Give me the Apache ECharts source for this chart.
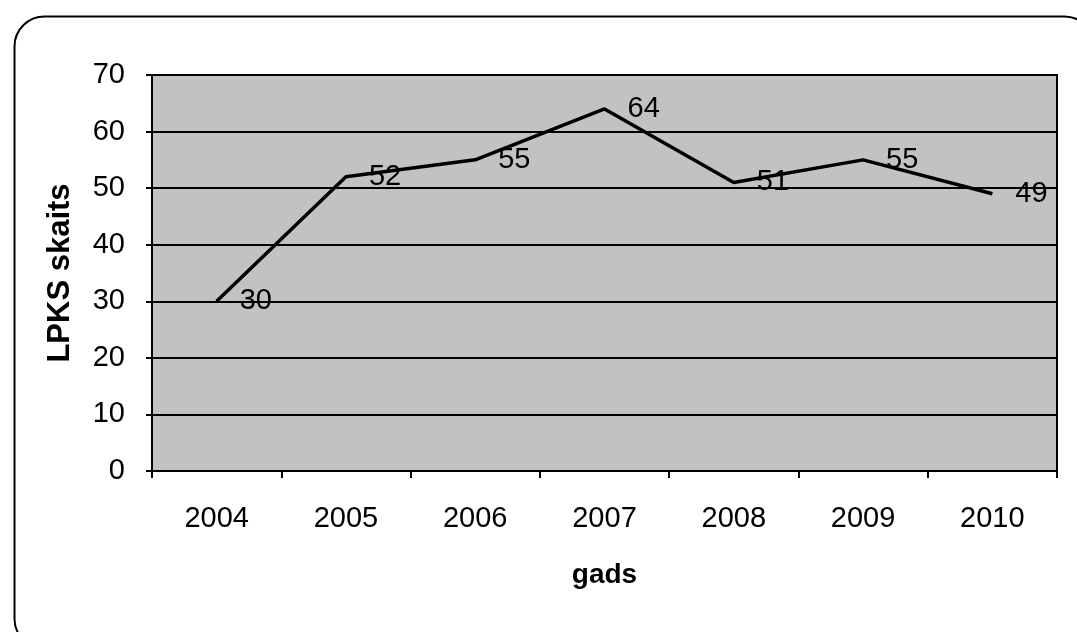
<!DOCTYPE html>
<html>
<head>
<meta charset="utf-8">
<script src="https://cdn.jsdelivr.net/npm/echarts@6/dist/echarts.min.js"></script>
<style>
  html, body { margin: 0; padding: 0; background: #fff; }
  #chart { width: 1077px; height: 632px; }
</style>
</head>
<body>
<div id="chart"></div>
<script>
const years = ['2004', '2005', '2006', '2007', '2008', '2009', '2010'];
const counts = [30, 52, 55, 64, 51, 55, 49];
const yTicks = { min: 0, max: 70, step: 10 };

const font = '"Liberation Sans", Arial, sans-serif';
const chart = echarts.init(document.getElementById('chart'));

chart.setOption({
  animation: false,
  backgroundColor: '#fff',
  grid: {
    left: 152, right: 20, top: 75, bottom: 161,
    show: true, backgroundColor: '#c2c2c2',
    borderColor: '#000', borderWidth: 2
  },
  graphic: [
    {
      // rounded frame round the whole chart
      type: 'rect', left: 12, top: 14, z: -1,
      shape: { width: 1080, height: 632, r: 30 },
      style: { fill: 'none', stroke: '#000', lineWidth: 2 }
    }
  ],
  xAxis: {
    type: 'category',
    data: years,
    boundaryGap: true,
    name: 'gads',
    nameLocation: 'middle',
    nameGap: 90,
    nameTextStyle: { color: '#000', fontSize: 28, fontWeight: 'bold', fontFamily: font },
    axisLine: { lineStyle: { color: '#000', width: 2 } },
    axisTick: { show: true, length: 7, lineStyle: { color: '#000', width: 2 } },
    axisLabel: { color: '#000', fontSize: 29, fontFamily: font, margin: 33 },
    splitLine: { show: false }
  },
  yAxis: {
    type: 'value',
    min: yTicks.min,
    max: yTicks.max,
    interval: yTicks.step,
    name: 'LPKS skaits',
    nameLocation: 'middle',
    nameGap: 76,
    nameTextStyle: { color: '#000', fontSize: 31, fontWeight: 'bold', fontFamily: font },
    axisLine: { show: true, lineStyle: { color: '#000', width: 2 } },
    axisTick: { show: true, length: 6, lineStyle: { color: '#000', width: 2 } },
    axisLabel: { color: '#000', fontSize: 29, fontFamily: font, margin: 27 },
    splitLine: { show: true, lineStyle: { color: '#000', width: 2 } }
  },
  series: [{
    type: 'line',
    data: counts,
    showSymbol: true,
    symbolSize: 0,
    lineStyle: { color: '#000', width: 3.5 },
    itemStyle: { color: '#000' },
    label: {
      show: true,
      position: 'right',
      distance: 23,
      color: '#000',
      fontSize: 29,
      fontFamily: font
    }
  }]
});
</script>
</body>
</html>
